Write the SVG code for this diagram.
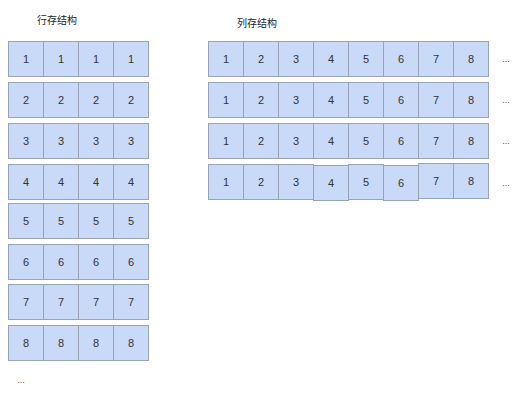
<svg xmlns="http://www.w3.org/2000/svg" width="526" height="401" viewBox="0 0 526 401">
<style>
.c{fill:#c9daf8;stroke:#9aa3b3;stroke-width:1}
.t{font-family:"Liberation Sans",Arial,sans-serif;font-size:11px;fill:#333;text-anchor:middle;dominant-baseline:central}
.h{font-family:"Noto Sans CJK SC","Liberation Sans",sans-serif;font-size:10px;fill:#222;text-anchor:middle;dominant-baseline:central}
.d{font-family:"Liberation Sans",Arial,sans-serif;font-size:9px;fill:#444;text-anchor:middle}
</style>
<rect width="526" height="401" fill="#fff"/>
<text class="h" x="57" y="19">行存结构</text>
<text class="h" x="257" y="22">列存结构</text>
<g id="row-store">
<g id="r1"><rect class="c" x="8.5" y="41.5" width="35" height="35"/><rect class="c" x="43.5" y="41.5" width="35" height="35"/><rect class="c" x="78.5" y="41.5" width="35" height="35"/><rect class="c" x="113.5" y="41.5" width="35" height="35"/>
<text class="t" x="26" y="59">1</text><text class="t" x="61" y="59">1</text><text class="t" x="96" y="59">1</text><text class="t" x="131" y="59">1</text></g>
<g id="r2"><rect class="c" x="8.5" y="82.5" width="35" height="35"/><rect class="c" x="43.5" y="82.5" width="35" height="35"/><rect class="c" x="78.5" y="82.5" width="35" height="35"/><rect class="c" x="113.5" y="82.5" width="35" height="35"/>
<text class="t" x="26" y="100">2</text><text class="t" x="61" y="100">2</text><text class="t" x="96" y="100">2</text><text class="t" x="131" y="100">2</text></g>
<g id="r3"><rect class="c" x="8.5" y="123.5" width="35" height="35"/><rect class="c" x="43.5" y="123.5" width="35" height="35"/><rect class="c" x="78.5" y="123.5" width="35" height="35"/><rect class="c" x="113.5" y="123.5" width="35" height="35"/>
<text class="t" x="26" y="141">3</text><text class="t" x="61" y="141">3</text><text class="t" x="96" y="141">3</text><text class="t" x="131" y="141">3</text></g>
<g id="r4"><rect class="c" x="8.5" y="164.5" width="35" height="35"/><rect class="c" x="43.5" y="164.5" width="35" height="35"/><rect class="c" x="78.5" y="164.5" width="35" height="35"/><rect class="c" x="113.5" y="164.5" width="35" height="35"/>
<text class="t" x="26" y="182">4</text><text class="t" x="61" y="182">4</text><text class="t" x="96" y="182">4</text><text class="t" x="131" y="182">4</text></g>
<g id="r5"><rect class="c" x="8.5" y="203.5" width="35" height="35"/><rect class="c" x="43.5" y="203.5" width="35" height="35"/><rect class="c" x="78.5" y="203.5" width="35" height="35"/><rect class="c" x="113.5" y="203.5" width="35" height="35"/>
<text class="t" x="26" y="221">5</text><text class="t" x="61" y="221">5</text><text class="t" x="96" y="221">5</text><text class="t" x="131" y="221">5</text></g>
<g id="r6"><rect class="c" x="8.5" y="244.5" width="35" height="35"/><rect class="c" x="43.5" y="244.5" width="35" height="35"/><rect class="c" x="78.5" y="244.5" width="35" height="35"/><rect class="c" x="113.5" y="244.5" width="35" height="35"/>
<text class="t" x="26" y="262">6</text><text class="t" x="61" y="262">6</text><text class="t" x="96" y="262">6</text><text class="t" x="131" y="262">6</text></g>
<g id="r7"><rect class="c" x="8.5" y="284.5" width="35" height="35"/><rect class="c" x="43.5" y="284.5" width="35" height="35"/><rect class="c" x="78.5" y="284.5" width="35" height="35"/><rect class="c" x="113.5" y="284.5" width="35" height="35"/>
<text class="t" x="26" y="302">7</text><text class="t" x="61" y="302">7</text><text class="t" x="96" y="302">7</text><text class="t" x="131" y="302">7</text></g>
<g id="r8"><rect class="c" x="8.5" y="325.5" width="35" height="35"/><rect class="c" x="43.5" y="325.5" width="35" height="35"/><rect class="c" x="78.5" y="325.5" width="35" height="35"/><rect class="c" x="113.5" y="325.5" width="35" height="35"/>
<text class="t" x="26" y="343">8</text><text class="t" x="61" y="343">8</text><text class="t" x="96" y="343">8</text><text class="t" x="131" y="343">8</text></g>
<text class="d" x="21" y="383">...</text>
</g>
<g id="column-store">
<g id="c1"><rect class="c" x="208.5" y="41.5" width="35" height="35"/><rect class="c" x="243.5" y="41.5" width="35" height="35"/><rect class="c" x="278.5" y="41.5" width="35" height="35"/><rect class="c" x="313.5" y="41.5" width="35" height="35"/><rect class="c" x="348.5" y="41.5" width="35" height="35"/><rect class="c" x="383.5" y="41.5" width="35" height="35"/><rect class="c" x="418.5" y="41.5" width="35" height="35"/><rect class="c" x="453.5" y="41.5" width="35" height="35"/>
<text class="t" x="226" y="59">1</text><text class="t" x="261" y="59">2</text><text class="t" x="296" y="59">3</text><text class="t" x="331" y="59">4</text><text class="t" x="366" y="59">5</text><text class="t" x="401" y="59">6</text><text class="t" x="436" y="59">7</text><text class="t" x="471" y="59">8</text>
<text class="d" x="506" y="62">...</text></g>
<g id="c2"><rect class="c" x="208.5" y="82.5" width="35" height="35"/><rect class="c" x="243.5" y="82.5" width="35" height="35"/><rect class="c" x="278.5" y="82.5" width="35" height="35"/><rect class="c" x="313.5" y="82.5" width="35" height="35"/><rect class="c" x="348.5" y="82.5" width="35" height="35"/><rect class="c" x="383.5" y="82.5" width="35" height="35"/><rect class="c" x="418.5" y="82.5" width="35" height="35"/><rect class="c" x="453.5" y="82.5" width="35" height="35"/>
<text class="t" x="226" y="100">1</text><text class="t" x="261" y="100">2</text><text class="t" x="296" y="100">3</text><text class="t" x="331" y="100">4</text><text class="t" x="366" y="100">5</text><text class="t" x="401" y="100">6</text><text class="t" x="436" y="100">7</text><text class="t" x="471" y="100">8</text>
<text class="d" x="506" y="103">...</text></g>
<g id="c3"><rect class="c" x="208.5" y="123.5" width="35" height="35"/><rect class="c" x="243.5" y="123.5" width="35" height="35"/><rect class="c" x="278.5" y="123.5" width="35" height="35"/><rect class="c" x="313.5" y="123.5" width="35" height="35"/><rect class="c" x="348.5" y="123.5" width="35" height="35"/><rect class="c" x="383.5" y="123.5" width="35" height="35"/><rect class="c" x="418.5" y="123.5" width="35" height="35"/><rect class="c" x="453.5" y="123.5" width="35" height="35"/>
<text class="t" x="226" y="141">1</text><text class="t" x="261" y="141">2</text><text class="t" x="296" y="141">3</text><text class="t" x="331" y="141">4</text><text class="t" x="366" y="141">5</text><text class="t" x="401" y="141">6</text><text class="t" x="436" y="141">7</text><text class="t" x="471" y="141">8</text>
<text class="d" x="506" y="144">...</text></g>
<g id="c4"><rect class="c" x="208.5" y="164.5" width="35" height="35"/><rect class="c" x="243.5" y="164.5" width="35" height="35"/><rect class="c" x="278.5" y="164.5" width="35" height="35"/><rect class="c" x="313.5" y="165.5" width="35" height="35"/><rect class="c" x="348.5" y="164.5" width="35" height="35"/><rect class="c" x="383.5" y="165.5" width="35" height="35"/><rect class="c" x="418.5" y="163.5" width="35" height="35"/><rect class="c" x="453.5" y="163.5" width="35" height="35"/>
<text class="t" x="226" y="182">1</text><text class="t" x="261" y="182">2</text><text class="t" x="296" y="182">3</text><text class="t" x="331" y="183">4</text><text class="t" x="366" y="182">5</text><text class="t" x="401" y="183">6</text><text class="t" x="436" y="181">7</text><text class="t" x="471" y="181">8</text>
<text class="d" x="506" y="186">...</text></g>
</g>
<g id="connectors"/>
</svg>
